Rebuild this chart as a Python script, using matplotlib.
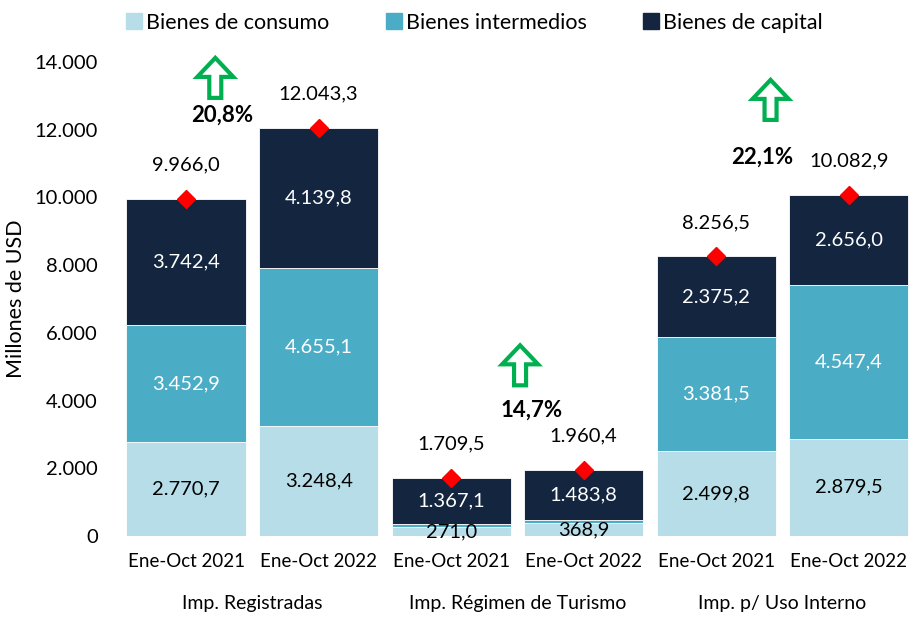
import matplotlib

matplotlib.use("Agg")
import matplotlib.pyplot as plt
import matplotlib.transforms as mtransforms
from matplotlib.patches import Polygon
from matplotlib.lines import Line2D

plt.rcParams["font.family"] = ["Lato", "DejaVu Sans"]

periods = ["Ene-Oct 2021", "Ene-Oct 2022"] * 3
groups = ["Imp. Registradas", "Imp. Régimen de Turismo", "Imp. p/ Uso Interno"]
consumo = [2770.7, 3248.4, 271.0, 368.9, 2499.8, 2879.5]
intermedios = [3452.9, 4655.1, 71.4, 107.7, 3381.5, 4547.4]
capital = [3742.4, 4139.8, 1367.1, 1483.8, 2375.2, 2656.0]
totales = [9966.0, 12043.3, 1709.5, 1960.4, 8256.5, 10082.9]
variaciones = ["20,8%", "14,7%", "22,1%"]

# arrow (bottom-centre) and percentage label positions, in data units
arrow_pos = [(0.22, 12940), (2.52, 4450), (4.41, 12290)]
pct_pos = [(0.27, 12435), (2.61, 3722), (4.35, 11194)]

c_cons = "#b7dee8"
c_int = "#4bacc6"
c_cap = "#13253f"
c_green = "#00b050"


def fmt(v):
    s = f"{v:,.1f}"
    return s.replace(",", "X").replace(".", ",").replace("X", ".")


fig = plt.figure(figsize=(9.15, 6.17), dpi=100)
ax = fig.add_axes([0.131, 0.1313, 0.869, 0.7682])

x = list(range(len(periods)))
w = 0.9
bottom2 = [a + b for a, b in zip(consumo, intermedios)]
ax.bar(x, consumo, w, color=c_cons, edgecolor="white", linewidth=0.6)
ax.bar(x, intermedios, w, bottom=consumo, color=c_int, edgecolor="white", linewidth=0.6)
ax.bar(x, capital, w, bottom=bottom2, color=c_cap, edgecolor="white", linewidth=0.6)

fs = 14.5
for i in x:
    ax.text(i, consumo[i] / 2, fmt(consumo[i]), ha="center", va="center",
            fontsize=fs, color="black")
    if intermedios[i] > 500:
        ax.text(i, consumo[i] + intermedios[i] / 2, fmt(intermedios[i]),
                ha="center", va="center", fontsize=fs, color="white")
    ax.text(i, bottom2[i] + capital[i] / 2, fmt(capital[i]), ha="center",
            va="center", fontsize=fs, color="white")
    ax.annotate(fmt(totales[i]), (i, totales[i]), xytext=(0, 24.5),
                textcoords="offset points", ha="center", va="center",
                fontsize=fs, color="black")

ax.plot(x, totales, linestyle="none", marker="D", markersize=9,
        color="#ff0000", zorder=5)

# hollow up arrows (shape in px, anchored at bottom-centre)
shape = [(-6, 0), (6, 0), (6, 21), (18, 21), (0, 40), (-18, 21), (-6, 21)]
for (ax_x, ax_y), (px, py), txt in zip(arrow_pos, pct_pos, variaciones):
    tr = (mtransforms.Affine2D().scale(fig.dpi / 100.0)
          + mtransforms.ScaledTranslation(ax_x, ax_y, ax.transData))
    ax.add_patch(Polygon(shape, closed=True, facecolor="white",
                         edgecolor=c_green, linewidth=3, transform=tr,
                         clip_on=False, zorder=6))
    ax.text(px, py, txt, ha="center", va="center", fontsize=16,
            fontweight="bold", color="black")

ax.set_xlim(-0.5, 5.5)
ax.set_ylim(0, 14000)
ax.set_yticks(range(0, 14001, 2000))
ax.set_yticklabels([fmt(v)[:-2] if v else "0" for v in range(0, 14001, 2000)],
                   fontsize=14.5)
ax.set_xticks(x)
ax.set_xticklabels(periods, fontsize=13.5)
ax.tick_params(axis="x", length=0, pad=12)
ax.tick_params(axis="y", length=0, pad=16)
for s in ax.spines.values():
    s.set_visible(False)
ax.set_ylabel("Millones de USD", fontsize=15.5, labelpad=6)

for k, g in enumerate(groups):
    ax.text(2 * k + 0.5, -0.143, g, ha="center", va="center", fontsize=14,
            transform=ax.get_xaxis_transform())

handles = [Line2D([], [], linestyle="none", marker="s", markersize=11, color=c)
           for c in (c_cons, c_int, c_cap)]
fig.legend(handles, ["Bienes de consumo", "Bienes intermedios", "Bienes de capital"],
           loc="center", bbox_to_anchor=(0.518, 0.963), ncol=3, frameon=False,
           fontsize=15.5, handletextpad=0.15, columnspacing=2.6, handlelength=0.8)

fig.savefig("out.png", dpi=100)
